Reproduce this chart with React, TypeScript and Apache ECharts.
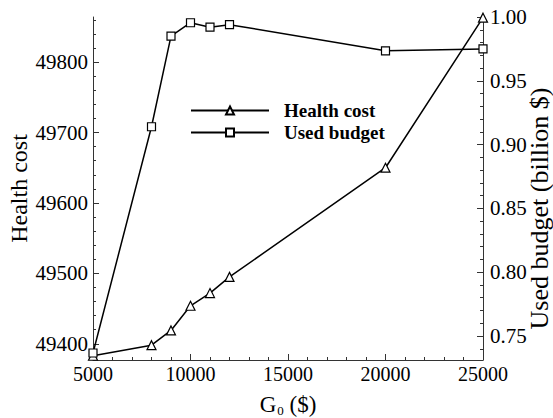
import React, { useEffect, useRef } from "react";
import * as echarts from "echarts";

// G0 values ($) on the horizontal axis
const gValues = [5000, 8000, 9000, 10000, 11000, 12000, 20000, 25000];
// Health cost (left axis)
const healthCost = [49383, 49398, 49419, 49454, 49472, 49495, 49650, 49863];
// Used budget in billion $ (right axis)
const usedBudget = [0.7367, 0.914, 0.985, 0.9955, 0.992, 0.994, 0.9735, 0.975];

const xTicks = [5000, 10000, 15000, 20000, 25000];
const healthTicks = [49400, 49500, 49600, 49700, 49800];
const budgetTicks = [0.75, 0.8, 0.85, 0.9, 0.95, 1.0];
const healthRange = [49377, 49864];
const budgetRange = [0.7312, 1.0];

const FONT = '"Liberation Serif", "DejaVu Serif", serif';
const AXIS_COLOR = "#333";

function minorSteps(from: number, to: number, step: number, majors: number[]) {
  const out: number[] = [];
  const n = Math.round((to - from) / step);
  for (let i = 0; i <= n; i++) {
    const v = +(from + i * step).toFixed(6);
    if (!majors.some((m) => Math.abs(m - v) < step / 10)) out.push(v);
  }
  return out;
}

const healthMinor = minorSteps(49380, 49860, 20, healthTicks);
const budgetMinor = minorSteps(0.74, 0.99, 0.01, budgetTicks);

export default function App() {
  const ref = useRef<HTMLDivElement>(null);

  useEffect(() => {
    if (!ref.current) return;
    const chart = echarts.init(ref.current, undefined, { renderer: "svg" });

    const lineStyle = { color: AXIS_COLOR, width: 1 };
    const yLabel = { fontFamily: FONT, fontSize: 21, color: "#000" };

    chart.setOption({
      animation: false,
      backgroundColor: "#fff",
      grid: {
        left: 93,
        right: 70,
        top: 17,
        bottom: 58,
        containLabel: false,
        outerBoundsMode: "none",
      },
      legend: {
        orient: "vertical",
        left: 185,
        top: 96,
        itemWidth: 78,
        itemHeight: 10,
        itemGap: 3,
        textStyle: {
          fontFamily: FONT,
          fontWeight: "bold",
          fontSize: 19,
          color: "#000",
          padding: [0, 0, 0, 10],
        },
        data: ["Health cost", "Used budget"],
      },
      xAxis: {
        type: "value",
        min: 5000,
        max: 25000,
        interval: 5000,
        name: "{a|G}{b|0}{a| ($)}",
        nameLocation: "middle",
        nameGap: 32,
        nameMoveOverlap: false,
        nameTextStyle: {
          rich: {
            a: { fontFamily: FONT, fontSize: 23, color: "#000" },
            b: { fontFamily: FONT, fontSize: 13, color: "#000", padding: [12, 0, 0, 1] },
          },
        },
        axisLine: { show: true, lineStyle },
        axisTick: { show: true, inside: true, length: 6, lineStyle },
        minorTick: { show: true, splitNumber: 5, length: 3, lineStyle },
        axisLabel: {
          fontFamily: FONT,
          fontSize: 20,
          color: "#000",
          margin: 4,
          customValues: xTicks,
          formatter: (v: number) => String(v),
        },
        splitLine: { show: false },
        minorSplitLine: { show: false },
      },
      yAxis: [
        {
          type: "value",
          position: "left",
          min: healthRange[0],
          max: healthRange[1],
          name: "Health cost",
          nameLocation: "middle",
          nameGap: 62,
          nameMoveOverlap: false,
          nameTextStyle: { fontFamily: FONT, fontSize: 24, color: "#000" },
          axisLine: { show: true, lineStyle },
          axisTick: { show: true, inside: true, length: 6, lineStyle, customValues: healthTicks },
          axisLabel: {
            ...yLabel,
            margin: 5,
            customValues: healthTicks,
            formatter: (v: number) => String(v),
          },
          splitLine: { show: false },
        },
        {
          type: "value",
          position: "left",
          min: healthRange[0],
          max: healthRange[1],
          axisLine: { show: false },
          axisTick: { show: true, inside: true, length: 3, lineStyle, customValues: healthMinor },
          axisLabel: { show: false },
          splitLine: { show: false },
        },
        {
          type: "value",
          position: "right",
          min: budgetRange[0],
          max: budgetRange[1],
          name: "Used budget (billion $)",
          nameLocation: "middle",
          nameGap: 43,
          nameRotate: 90,
          nameMoveOverlap: false,
          nameTextStyle: {
            fontFamily: FONT,
            fontSize: 26,
            color: "#000",
            padding: [0, 40, 0, 0],
          },
          axisLine: { show: true, lineStyle },
          axisTick: { show: true, inside: true, length: 6, lineStyle, customValues: budgetTicks },
          axisLabel: {
            ...yLabel,
            margin: 7,
            customValues: budgetTicks,
            formatter: (v: number) => v.toFixed(2),
          },
          splitLine: { show: false },
        },
        {
          type: "value",
          position: "right",
          min: budgetRange[0],
          max: budgetRange[1],
          axisLine: { show: false },
          axisTick: { show: true, inside: true, length: 3, lineStyle, customValues: budgetMinor },
          axisLabel: { show: false },
          splitLine: { show: false },
        },
      ],
      series: [
        {
          type: "line",
          name: "Health cost",
          yAxisIndex: 0,
          data: gValues.map((g, i) => [g, healthCost[i]]),
          symbol: "triangle",
          symbolSize: 9,
          clip: false,
          lineStyle: { color: "#000", width: 1.5 },
          itemStyle: { color: "#fff", borderColor: "#000", borderWidth: 1.2 },
        },
        {
          type: "line",
          name: "Used budget",
          yAxisIndex: 2,
          data: gValues.map((g, i) => [g, usedBudget[i]]),
          symbol: "rect",
          symbolSize: 8,
          clip: false,
          lineStyle: { color: "#000", width: 1.5 },
          itemStyle: { color: "#fff", borderColor: "#000", borderWidth: 1.2 },
        },
      ],
    });

    return () => chart.dispose();
  }, []);

  return (
    <div
      ref={ref}
      style={{ position: "fixed", left: 0, top: 0, width: 553, height: 418 }}
    />
  );
}
